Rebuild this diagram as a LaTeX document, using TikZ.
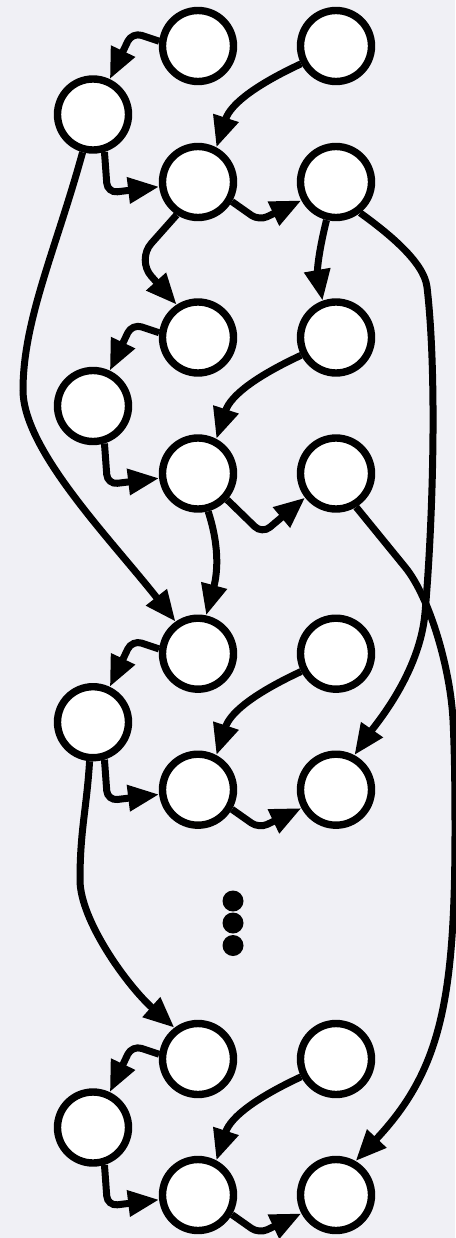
\documentclass[tikz,border=0pt]{standalone}
\usetikzlibrary{arrows.meta}
\definecolor{canvas}{RGB}{240,240,245}
\begin{document}
\begin{tikzpicture}[x=1pt,y=1pt,
  vertex/.style={circle,draw=black,fill=white,line width=7.4pt,minimum size=71pt,inner sep=0pt},
  dotmark/.style={circle,fill=black,minimum size=21pt,inner sep=0pt},
  edge/.style={line width=7pt,-{Triangle[length=31pt,width=25pt]}}]
  % canvas
  \fill[canvas] (0,0) rectangle (455,-1238);
  \useasboundingbox (0,0) rectangle (455,-1238);

  % four repeating groups of five nodes
  \foreach \k/\y in {1/46,2/337.5,3/653.7,4/1059}{
    \node[vertex] (A\k) at (198,-\y) {};
    \node[vertex] (B\k) at (336,-\y) {};
    \node[vertex] (L\k) at (93,-\y-68.5) {};
    \node[vertex] (C\k) at (198,-\y-136) {};
    \node[vertex] (D\k) at (336,-\y-136) {};
  }

  % vertical ellipsis between the third and fourth groups
  \node[dotmark] (e1) at (233,-901) {};
  \node[dotmark] (e2) at (233,-923) {};
  \node[dotmark] (e3) at (233,-945.5) {};

  % edges inside each group
  \foreach \k in {1,2,3,4}{
    \draw[edge,rounded corners=10pt] (A\k.173) -- ++(-27,9) -- (L\k);
    \draw[edge] (B\k.207) to[out=205,in=72] (C\k.62);
    \draw[edge,rounded corners=10pt] (L\k.287) -- ++(3,-41) -- (C\k);
  }
  \draw[edge,rounded corners=9pt] (C1.330) -- ++(27,-19) -- (D1.208);
  \draw[edge,rounded corners=10pt] (C2.318) -- ++(35,-34) -- (D2.218);
  \draw[edge,rounded corners=9pt] (C3.330) -- ++(27,-19) -- (D3.208);
  \draw[edge,rounded corners=9pt] (C4.330) -- ++(27,-19) -- (D4.208);

  % edges between groups
  \draw[edge,rounded corners=22pt] (C1.237) -- ++(-40,-45) -- (A2.123);
  \draw[edge] (D1.256) to[out=256,in=100] (B2.110);
  \draw[edge] (C2.285) to[out=-72,in=75] (A3.78);
  \draw[edge] (L1) .. controls (56,-249) and (23,-320) .. (23,-390)
                   .. controls (23,-450) and (111,-539.5) .. (A3.125);
  \draw[edge] (D1.-52) .. controls (388,-233) and (424,-262) .. (427,-287)
                   .. controls (437.4,-376) and (432.8,-523.4) .. (425,-613)
                   .. controls (419.8,-672.8) and (375.6,-724.6) .. (D3.62);
  \draw[edge] (D2.-59) -- (405,-567)
                   .. controls (430.3,-598) and (450.5,-670) .. (453,-720)
                   .. controls (454.75,-755) and (455,-795) .. (455,-830)
                   .. controls (455,-1000) and (440.8,-1070.6) .. (D4.60);
  \draw[edge] (L3.265) .. controls (86.5,-810) and (80,-830) .. (80,-880)
                   .. controls (80,-920) and (127,-985.4) .. (A4.127);
\end{tikzpicture}
\end{document}
